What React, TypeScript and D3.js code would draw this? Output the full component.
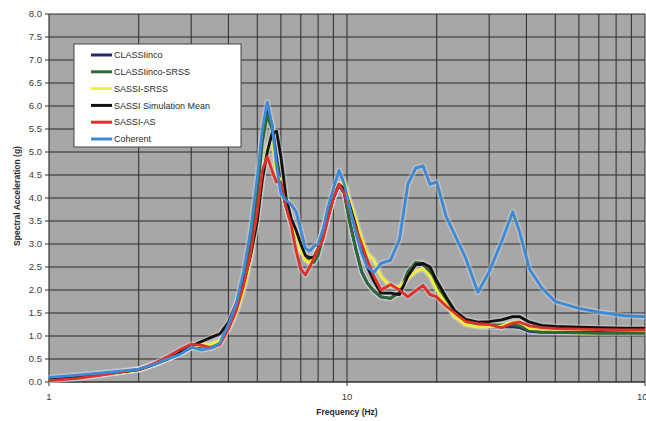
import React, { useEffect, useRef } from 'react';
import * as d3 from 'd3';

// frequency grid (Hz) shared by all series
const freq = [1, 1.25, 1.5, 1.75, 2, 2.25, 2.5, 2.75, 3, 3.25, 3.5, 3.75, 4, 4.25, 4.5, 4.75, 5, 5.2, 5.4, 5.6, 5.8, 6, 6.25, 6.5, 6.75, 7, 7.25, 7.5, 7.75, 8, 8.3, 8.6, 9, 9.4, 9.8, 10.2, 10.7, 11.2, 11.7, 12.3, 13, 14, 15, 16, 17, 18, 19, 20, 21.5, 23, 25, 27.5, 30, 33, 36, 38, 41, 45, 50, 60, 70, 85, 100];

const classiinco = [0.05, 0.1, 0.16, 0.22, 0.27, 0.38, 0.5, 0.62, 0.75, 0.78, 0.8, 0.88, 1.2, 1.62, 2.22, 3.05, 4.2, 5.35, 5.9, 5.6, 4.9, 4.3, 3.8, 3.45, 3.2, 2.9, 2.7, 2.62, 2.62, 2.78, 3.15, 3.55, 4.0, 4.28, 4.1, 3.5, 2.9, 2.4, 2.15, 1.98, 1.85, 1.82, 1.95, 2.35, 2.55, 2.55, 2.4, 2.1, 1.75, 1.45, 1.28, 1.22, 1.2, 1.2, 1.2, 1.18, 1.1, 1.08, 1.08, 1.08, 1.08, 1.08, 1.08];
const classiincoSrss = [0.05, 0.1, 0.16, 0.22, 0.27, 0.38, 0.5, 0.62, 0.75, 0.78, 0.8, 0.88, 1.2, 1.6, 2.2, 3.0, 4.1, 5.2, 5.8, 5.5, 4.8, 4.3, 3.8, 3.45, 3.2, 2.9, 2.7, 2.62, 2.6, 2.75, 3.15, 3.55, 4.0, 4.3, 4.1, 3.5, 2.9, 2.4, 2.15, 1.98, 1.85, 1.82, 1.95, 2.4, 2.6, 2.58, 2.4, 2.1, 1.75, 1.45, 1.3, 1.25, 1.24, 1.24, 1.24, 1.22, 1.12, 1.09, 1.08, 1.07, 1.06, 1.06, 1.06];
const sassiSrss = [0.06, 0.11, 0.17, 0.22, 0.27, 0.38, 0.5, 0.63, 0.76, 0.8, 0.82, 0.9, 1.15, 1.5, 2.0, 2.7, 3.6, 4.4, 5.1, 5.3, 4.5, 4.4, 4.0, 3.5, 3.2, 2.85, 2.65, 2.6, 2.7, 2.95, 3.3, 3.65, 4.05, 4.3, 4.35, 3.95, 3.55, 3.1, 2.8, 2.65, 2.3, 2.07, 2.07, 2.25, 2.4, 2.47, 2.3, 2.0, 1.7, 1.42, 1.25, 1.2, 1.2, 1.22, 1.3, 1.3, 1.16, 1.15, 1.15, 1.15, 1.14, 1.13, 1.12];
const sassiMean = [0.07, 0.12, 0.18, 0.22, 0.27, 0.38, 0.5, 0.65, 0.78, 0.88, 0.97, 1.05, 1.3, 1.7, 2.15, 2.75, 3.5, 4.4, 5.0, 5.4, 5.45, 4.9, 4.0, 3.55, 3.3, 3.0, 2.75, 2.7, 2.72, 2.9, 3.3, 3.6, 4.0, 4.3, 4.2, 3.85, 3.4, 2.9, 2.5, 2.2, 1.93, 1.93, 1.9, 2.3, 2.55, 2.58, 2.5, 2.2, 1.85, 1.55, 1.36, 1.3, 1.31, 1.35, 1.42, 1.42, 1.3, 1.23, 1.21, 1.19, 1.18, 1.17, 1.17];
const sassiAs = [0.03, 0.08, 0.15, 0.22, 0.27, 0.4, 0.55, 0.7, 0.82, 0.8, 0.74, 0.82, 1.15, 1.55, 2.1, 2.8, 3.7, 4.6, 4.9, 4.6, 4.35, 4.35, 3.8, 3.4, 2.85, 2.45, 2.33, 2.5, 2.7, 2.9, 3.1, 3.5, 4.0, 4.3, 4.1, 3.75, 3.35, 3.0, 2.65, 2.3, 2.0, 2.12, 2.0, 1.85, 1.98, 2.1, 1.9, 1.85, 1.65, 1.5, 1.32, 1.27, 1.25, 1.18, 1.28, 1.3, 1.22, 1.18, 1.16, 1.15, 1.14, 1.13, 1.13];
const coherent = [0.1, 0.15, 0.2, 0.24, 0.28, 0.38, 0.5, 0.6, 0.76, 0.7, 0.74, 0.85, 1.25, 1.7, 2.4, 3.3, 4.45, 5.5, 6.08, 5.6, 4.7, 4.1, 3.95, 3.85, 3.7, 3.3, 2.9, 2.85, 2.95, 3.0, 3.3, 3.75, 4.2, 4.6, 4.3, 3.8, 3.25, 2.8, 2.5, 2.38, 2.58, 2.65, 3.1, 4.3, 4.65, 4.7, 4.3, 4.35, 3.6, 3.2, 2.7, 1.95, 2.4, 3.05, 3.7, 3.25, 2.45, 2.05, 1.75, 1.6, 1.52, 1.44, 1.42];

const seriesNames = ['CLASSIinco', 'CLASSIinco-SRSS', 'SASSI-SRSS', 'SASSI Simulation Mean', 'SASSI-AS', 'Coherent'];
const seriesValues = [classiinco, classiincoSrss, sassiSrss, sassiMean, sassiAs, coherent];
const seriesColors = ['#1c2a6e', '#2f6a35', '#f2ef3c', '#111111', '#e0302c', '#3a8ad8'];

const yTicks = d3.range(0, 8.01, 0.5);
const xLabels = [1, 10, 100];

const App = () => {
  const svgRef = useRef<SVGSVGElement>(null);

  useEffect(() => {
    const width = 646;
    const height = 421;
    const margin = { top: 14, right: 1, bottom: 39, left: 49 };
    const innerW = width - margin.left - margin.right;
    const innerH = height - margin.top - margin.bottom;

    const svg = d3.select(svgRef.current);
    svg.selectAll('*').remove();

    const font = '"Liberation Sans", Arial, sans-serif';

    const xScale = d3.scaleLog().domain([1, 100]).range([0, innerW]);
    const yScale = d3.scaleLinear().domain([0, 8]).range([innerH, 0]);

    const g = svg.append('g').attr('transform', `translate(${margin.left},${margin.top})`);

    // plot background
    g.append('rect')
      .attr('width', innerW)
      .attr('height', innerH)
      .attr('fill', '#a7a7a7');

    // vertical grid (log minors)
    const vTicks: number[] = [];
    [1, 10].forEach(dec => {
      for (let k = 1; k <= 9; k++) vTicks.push(dec * k);
    });
    vTicks.push(100);
    g.selectAll('.vgrid')
      .data(vTicks.slice(1))
      .enter().append('line')
      .attr('x1', d => xScale(d))
      .attr('x2', d => xScale(d))
      .attr('y1', 0)
      .attr('y2', innerH)
      .attr('stroke', '#2a2a2a')
      .attr('stroke-width', 1);

    // horizontal grid
    g.selectAll('.hgrid')
      .data(yTicks)
      .enter().append('line')
      .attr('x1', 0)
      .attr('x2', innerW)
      .attr('y1', d => yScale(d))
      .attr('y2', d => yScale(d))
      .attr('stroke', '#2a2a2a')
      .attr('stroke-width', 1);

    // axes
    g.append('line').attr('x1', 0).attr('x2', 0).attr('y1', 0).attr('y2', innerH)
      .attr('stroke', '#333').attr('stroke-width', 1.2);
    g.append('line').attr('x1', 0).attr('x2', innerW).attr('y1', innerH).attr('y2', innerH)
      .attr('stroke', '#333').attr('stroke-width', 1.2);

    g.selectAll('.ytick')
      .data(yTicks)
      .enter().append('line')
      .attr('x1', -4).attr('x2', 0)
      .attr('y1', d => yScale(d)).attr('y2', d => yScale(d))
      .attr('stroke', '#333');

    g.selectAll('.ylabel')
      .data(yTicks)
      .enter().append('text')
      .attr('x', -7)
      .attr('y', d => yScale(d))
      .attr('dy', '0.35em')
      .attr('text-anchor', 'end')
      .style('font-family', font)
      .style('font-size', '9.5px')
      .attr('fill', '#3a3a3a')
      .text(d => d.toFixed(1));

    g.selectAll('.xtickmark')
      .data(xLabels)
      .enter().append('line')
      .attr('x1', d => xScale(d)).attr('x2', d => xScale(d))
      .attr('y1', innerH).attr('y2', innerH + 4)
      .attr('stroke', '#333');

    g.selectAll('.xlabel')
      .data(xLabels)
      .enter().append('text')
      .attr('x', d => xScale(d))
      .attr('y', innerH + 18)
      .attr('text-anchor', 'middle')
      .style('font-family', font)
      .style('font-size', '9.5px')
      .attr('fill', '#3a3a3a')
      .text(d => String(d));

    // axis titles
    g.append('text')
      .attr('x', xScale(10))
      .attr('y', innerH + 33)
      .attr('text-anchor', 'middle')
      .style('font-family', font)
      .style('font-size', '8.5px')
      .style('font-weight', 'bold')
      .attr('fill', '#2a2a2a')
      .text('Frequency (Hz)');

    svg.append('text')
      .attr('transform', `translate(20,${margin.top + 182}) rotate(-90)`)
      .attr('text-anchor', 'middle')
      .style('font-family', font)
      .style('font-size', '8.5px')
      .style('font-weight', 'bold')
      .attr('fill', '#2a2a2a')
      .text('Spectral Acceleration (g)');

    // series lines
    const line = d3.line<number>()
      .x((d, i) => xScale(freq[i]))
      .y(d => yScale(d));

    const lines = g.append('g');
    seriesValues.forEach(vals => {
      lines.append('path')
        .datum(vals)
        .attr('fill', 'none')
        .attr('stroke', '#e4e4e4')
        .attr('stroke-opacity', 0.35)
        .attr('stroke-width', 6)
        .attr('stroke-linejoin', 'round')
        .attr('d', line);
    });
    seriesValues.forEach((vals, i) => {
      lines.append('path')
        .datum(vals)
        .attr('fill', 'none')
        .attr('stroke', seriesColors[i])
        .attr('stroke-width', 2.8)
        .attr('stroke-linejoin', 'round')
        .attr('d', line);
    });

    // legend
    const legend = svg.append('g').attr('transform', 'translate(74,44)');
    legend.append('rect')
      .attr('width', 167)
      .attr('height', 103)
      .attr('fill', '#ffffff')
      .attr('stroke', '#444')
      .attr('stroke-width', 1);

    seriesNames.forEach((name, i) => {
      const y = 11 + i * 16.8;
      legend.append('line')
        .attr('x1', 17).attr('x2', 38)
        .attr('y1', y).attr('y2', y)
        .attr('stroke', seriesColors[i])
        .attr('stroke-width', 3);
      legend.append('text')
        .attr('x', 40)
        .attr('y', y)
        .attr('dy', '0.35em')
        .style('font-family', font)
        .style('font-size', '9px')
        .attr('fill', '#2a2a2a')
        .text(name);
    });
  }, []);

  return (
    <div style={{ position: 'absolute', left: 0, top: 0 }}>
      <svg ref={svgRef} width={646} height={421} style={{ display: 'block', background: '#fff' }}></svg>
    </div>
  );
};

export default App;
